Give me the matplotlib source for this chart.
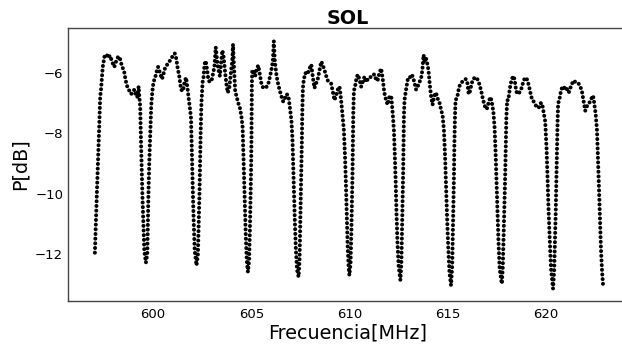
import matplotlib
matplotlib.use("Agg")
import matplotlib.pyplot as plt

# Frequency (MHz) and power (dB)
freq_mhz = [
    # lobe 1
    597.03, 597.08, 597.13, 597.18, 597.25, 597.30, 597.35, 597.43, 597.52, 597.62,
    597.72, 597.80, 597.92, 598.02, 598.12, 598.22, 598.30, 598.40, 598.52, 598.60,
    598.70, 598.80, 598.88, 598.96, 599.05, 599.12, 599.19, 599.26, 599.31,
    # dip 1
    599.34, 599.37, 599.41, 599.45, 599.50, 599.55, 599.63, 599.70, 599.73, 599.76,
    599.80, 599.85, 599.90, 599.96,
    # lobe 2
    600.02, 600.10, 600.18, 600.25, 600.35, 600.45, 600.52, 600.62, 600.72, 600.83,
    600.92, 601.00, 601.10, 601.17, 601.25, 601.33, 601.42, 601.52, 601.60, 601.68,
    601.75, 601.82, 601.88,
    # dip 2
    601.93, 601.96, 601.99, 602.03, 602.07, 602.12, 602.21, 602.28, 602.32, 602.36,
    602.39, 602.42, 602.46, 602.52,
    # lobe 3
    602.56, 602.62, 602.68, 602.75, 602.82, 602.90, 602.98, 603.06, 603.12, 603.19,
    603.26, 603.33, 603.40, 603.47, 603.53, 603.60, 603.67, 603.74, 603.80, 603.88,
    603.96, 604.03, 604.07, 604.12, 604.18, 604.26, 604.34, 604.42, 604.50,
    # dip 3
    604.56, 604.60, 604.64, 604.68, 604.72, 604.77, 604.83, 604.89, 604.93, 604.96,
    604.99, 605.01, 605.02, 605.03, 605.05,
    # lobe 4
    605.11, 605.20, 605.28, 605.36, 605.45, 605.53, 605.62, 605.70, 605.79, 605.87,
    605.96, 606.04, 606.10, 606.15, 606.20, 606.29, 606.38, 606.46, 606.55, 606.63,
    606.71, 606.80, 606.89, 606.97, 607.05,
    # dip 4
    607.10, 607.14, 607.18, 607.22, 607.27, 607.33, 607.41, 607.46, 607.49, 607.52,
    607.55, 607.58, 607.60, 607.63,
    # lobe 5
    607.68, 607.76, 607.83, 607.92, 608.00, 608.06, 608.13, 608.22, 608.30, 608.39,
    608.48, 608.57, 608.65, 608.73, 608.82, 608.90, 608.98, 609.07, 609.15, 609.24,
    609.32, 609.41, 609.50, 609.58, 609.66,
    # dip 5
    609.72, 609.78, 609.83, 609.87, 609.91, 609.96, 610.00, 610.06, 610.10, 610.13,
    610.16, 610.18, 610.20, 610.23,
    # lobe 6
    610.30, 610.37, 610.43, 610.51, 610.60, 610.68, 610.77, 610.86, 610.94, 611.02,
    611.11, 611.19, 611.29, 611.37, 611.44, 611.53, 611.62, 611.70, 611.78, 611.87,
    611.95, 612.04, 612.13, 612.21, 612.27,
    # dip 6
    612.31, 612.36, 612.40, 612.45, 612.51, 612.60, 612.65, 612.68, 612.71, 612.74,
    612.76, 612.78, 612.81,
    # lobe 7
    612.90, 612.98, 613.06, 613.14, 613.22, 613.31, 613.40, 613.48, 613.57, 613.65,
    613.72, 613.78, 613.84, 613.90, 613.96, 614.03, 614.10, 614.17, 614.24, 614.33,
    614.41, 614.50, 614.58, 614.67, 614.75,
    # dip 7
    614.82, 614.88, 614.93, 614.98, 615.04, 615.10, 615.18, 615.24, 615.27, 615.30,
    615.33, 615.35, 615.38, 615.41,
    # lobe 8
    615.50, 615.58, 615.66, 615.74, 615.83, 615.92, 616.00, 616.08, 616.15, 616.23,
    616.31, 616.40, 616.48, 616.56, 616.64, 616.72, 616.80, 616.88, 616.96, 617.04,
    617.12, 617.20, 617.27, 617.34, 617.40,
    # dip 8
    617.45, 617.50, 617.55, 617.60, 617.66, 617.77, 617.82, 617.86, 617.90, 617.94,
    617.97, 618.00, 618.04,
    # lobe 9
    618.10, 618.18, 618.26, 618.34, 618.42, 618.50, 618.58, 618.66, 618.75, 618.84,
    618.92, 619.00, 619.08, 619.16, 619.24, 619.32, 619.40, 619.48, 619.57, 619.65,
    619.74, 619.82, 619.90, 619.98,
    # dip 9
    620.05, 620.10, 620.15, 620.21, 620.28, 620.38, 620.44, 620.48, 620.52, 620.55,
    620.58, 620.61, 620.64,
    # lobe 10
    620.70, 620.78, 620.86, 620.94, 621.02, 621.10, 621.18, 621.26, 621.35, 621.43,
    621.52, 621.60, 621.68, 621.77, 621.85, 621.94, 622.02, 622.11, 622.20, 622.28,
    622.36, 622.42, 622.48, 622.55,
    # end
    622.62, 622.67, 622.72, 622.77, 622.82, 622.88, 622.93,
]

power_db = [
    # lobe 1
    -11.95, -10.95, -10.0, -9.1, -7.8, -6.8, -6.5, -5.8, -5.45, -5.38,
    -5.5, -5.42, -5.65, -5.8, -5.6, -5.45, -5.5, -5.75, -5.95, -6.25,
    -6.5, -6.6, -6.7, -6.6, -6.55, -6.75, -6.8, -6.45, -6.9,
    # dip 1
    -7.1, -8.0, -9.0, -10.0, -11.0, -11.9, -12.28, -12.0, -11.0, -10.0,
    -9.0, -8.0, -7.1, -6.6,
    # lobe 2
    -6.3, -6.15, -5.95, -5.8, -6.0, -6.2, -6.05, -5.8, -5.72, -5.62,
    -5.5, -5.45, -5.35, -5.5, -5.85, -6.1, -6.55, -6.6, -6.3, -6.15,
    -6.5, -6.9, -7.2,
    # dip 2
    -7.5, -8.3, -9.2, -10.1, -11.0, -11.9, -12.37, -12.0, -11.0, -10.0,
    -9.0, -8.0, -7.0, -6.3,
    # lobe 3
    -6.2, -5.7, -5.6, -5.9, -6.25, -6.3, -6.25, -6.0, -5.8, -5.15,
    -5.6, -5.9, -6.1, -5.6, -5.25, -5.5, -6.0, -6.4, -6.65, -6.5,
    -6.0, -5.6, -5.05, -5.8, -6.6, -6.8, -7.0, -7.15, -7.45,
    # dip 3
    -7.8, -8.7, -9.6, -10.5, -11.4, -12.2, -12.59, -12.2, -11.2, -10.2,
    -9.2, -8.2, -7.2, -6.4, -5.9,
    # lobe 4
    -5.95, -6.1, -5.85, -5.75, -6.1, -6.4, -6.5, -6.5, -6.45, -6.35,
    -6.1, -5.85, -5.6, -4.95, -5.6, -6.1, -6.4, -6.6, -6.8, -6.95,
    -6.85, -6.7, -6.75, -7.15, -7.6,
    # dip 4
    -8.2, -9.1, -10.0, -10.9, -11.8, -12.5, -12.75, -12.2, -11.2, -10.2,
    -9.2, -8.2, -7.3, -6.5,
    # lobe 5
    -6.2, -6.0, -6.05, -5.95, -5.8, -5.72, -6.1, -6.5, -6.35, -6.2,
    -5.9, -5.62, -5.75, -5.9, -6.1, -6.25, -6.3, -6.35, -6.6, -6.9,
    -6.75, -6.55, -6.45, -6.9, -7.45,
    # dip 5
    -7.9, -8.8, -9.8, -10.8, -11.7, -12.4, -12.7, -12.3, -11.3, -10.3,
    -9.3, -8.3, -7.3, -6.6,
    # lobe 6
    -6.4, -6.15, -6.05, -6.2, -6.45, -6.3, -6.12, -6.3, -6.2, -6.2,
    -6.1, -6.05, -6.05, -6.25, -6.25, -6.0, -5.85, -6.2, -6.65, -6.9,
    -7.05, -6.8, -6.75, -7.35, -7.9,
    # dip 6
    -8.6, -9.6, -10.6, -11.6, -12.4, -12.86, -12.3, -11.3, -10.3, -9.3,
    -8.3, -7.4, -6.9,
    # lobe 7
    -6.5, -6.2, -6.2, -6.05, -6.1, -6.3, -6.55, -6.45, -6.3, -6.2,
    -5.9, -5.4, -5.6, -5.5, -5.65, -5.9, -6.4, -6.8, -7.05, -6.75,
    -6.65, -6.85, -6.95, -7.2, -7.4,
    # dip 7
    -7.9, -8.8, -9.8, -10.8, -11.8, -12.6, -13.03, -12.4, -11.4, -10.4,
    -9.4, -8.4, -7.5, -6.9,
    # lobe 8
    -6.8, -6.5, -6.35, -6.3, -6.25, -6.2, -6.25, -6.7, -6.6, -6.35,
    -6.2, -6.15, -6.15, -6.25, -6.4, -6.6, -6.85, -7.05, -7.2, -7.15,
    -6.9, -6.8, -7.0, -7.3, -7.8,
    # dip 8
    -8.6, -9.6, -10.6, -11.6, -12.5, -12.98, -12.4, -11.4, -10.4, -9.4,
    -8.4, -7.5, -6.9,
    # lobe 9
    -6.9, -6.5, -6.25, -6.1, -6.2, -6.6, -6.7, -6.65, -6.55, -6.35,
    -6.2, -6.15, -6.25, -6.45, -6.7, -6.9, -6.95, -7.05, -7.15, -7.15,
    -7.0, -7.0, -7.3, -7.6,
    # dip 9
    -8.5, -9.5, -10.5, -11.5, -12.5, -13.14, -12.5, -11.5, -10.5, -9.5,
    -8.5, -7.6, -7.0,
    # lobe 10
    -6.9, -6.6, -6.45, -6.5, -6.45, -6.55, -6.65, -6.5, -6.35, -6.25,
    -6.3, -6.35, -6.35, -6.45, -6.6, -6.95, -7.25, -7.1, -7.0, -6.95,
    -6.8, -6.75, -7.0, -7.35,
    # end
    -7.9, -8.8, -9.8, -10.8, -11.8, -12.6, -13.03,
]

assert len(freq_mhz) == len(power_db)

title = "SOL"
x_label = "Frecuencia[MHz]"
y_label = "P[dB]"
x_ticks = [600, 605, 610, 615, 620]
y_ticks = [-12, -10, -8, -6]

fig = plt.figure(figsize=(6.22, 3.44), dpi=100)
ax = fig.add_axes([68 / 622, 1 - 301 / 344, 560 / 622, 273 / 344])

ax.plot(freq_mhz, power_db, color="black", lw=2.9,
        linestyle=(0, (0.01, 1.15)), dash_capstyle="round", solid_capstyle="round")

ax.set_xlim(595.66, 624.2)
ax.set_ylim(-13.55, -4.51)
ax.set_xticks(x_ticks)
ax.set_yticks(y_ticks)
ax.tick_params(axis="both", length=0, labelsize=9.5)
ax.tick_params(axis="x", pad=5)
ax.tick_params(axis="y", pad=3.5)

for s in ("top", "bottom", "left"):
    ax.spines[s].set_color("#444444")
    ax.spines[s].set_linewidth(1.0)
ax.spines["right"].set_visible(False)

ax.set_title(title, fontsize=13.8, fontweight="bold", pad=3)
ax.set_xlabel(x_label, fontsize=13.8, labelpad=2)
ax.set_ylabel(y_label, fontsize=13.8, labelpad=4)

fig.savefig("out.png", dpi=100)
